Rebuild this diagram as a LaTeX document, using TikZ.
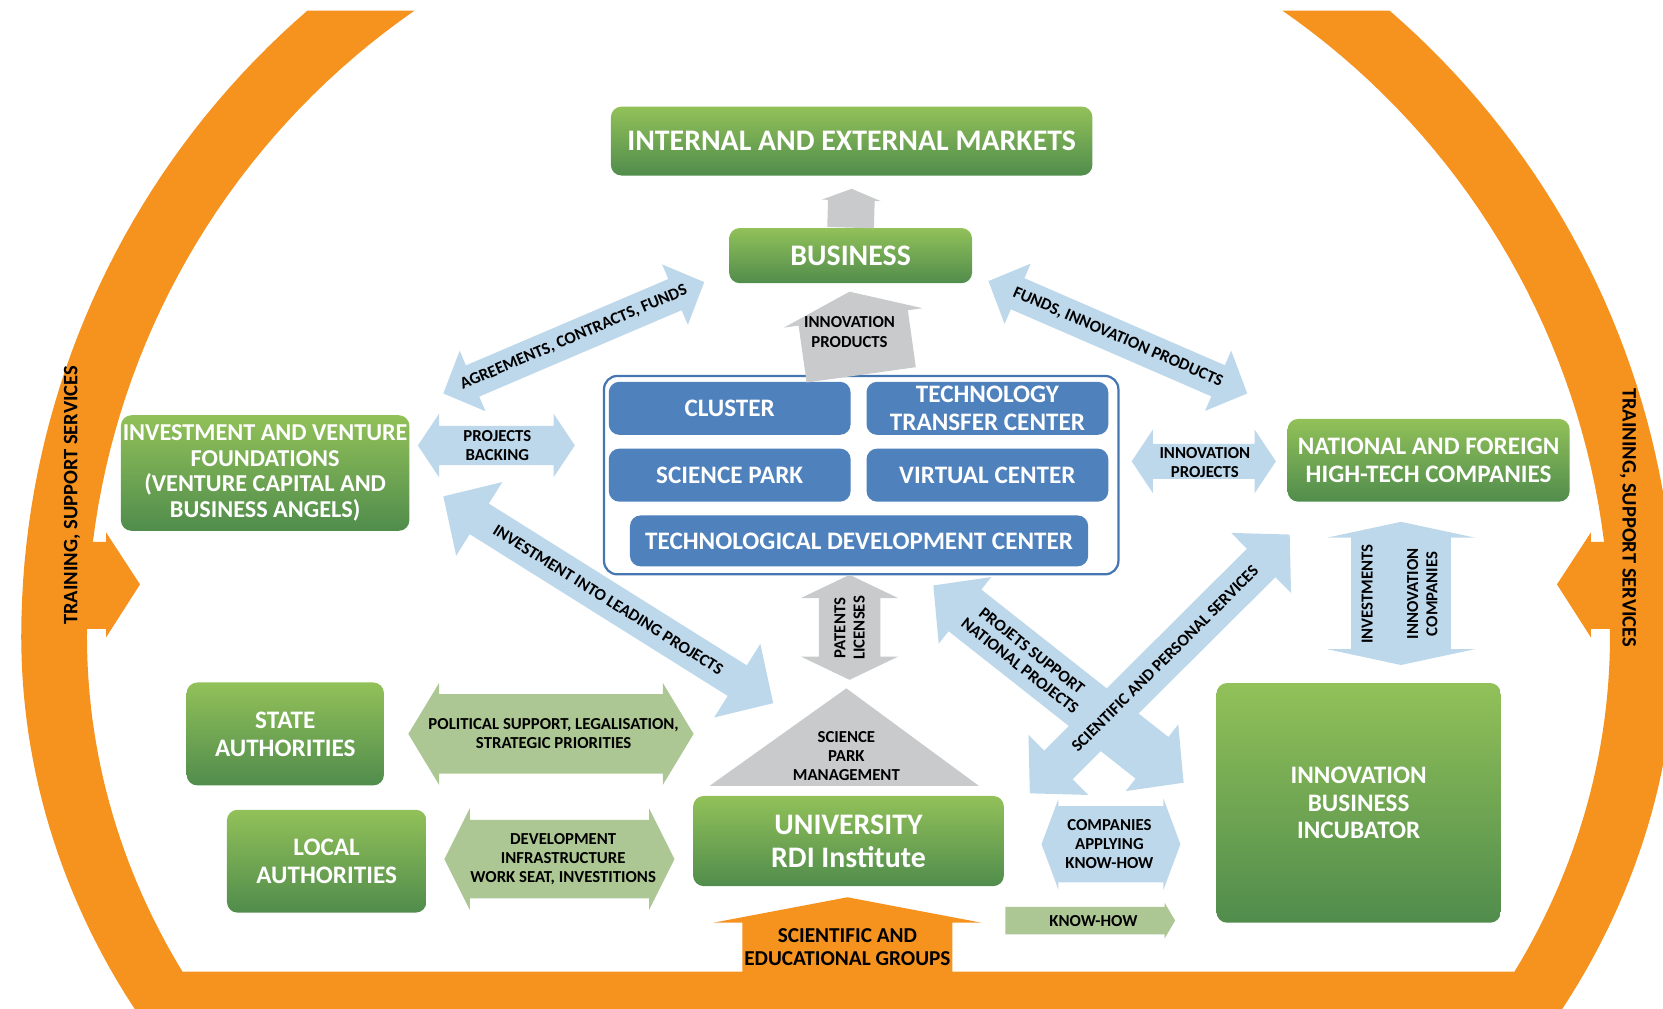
\documentclass[tikz,border=0pt]{standalone}
\usepackage{fontspec}
\setmainfont{Carlito}
\usetikzlibrary{calc}

\definecolor{grntop}{RGB}{146,193,89}
\definecolor{grnbot}{RGB}{80,140,76}
\definecolor{boxblue}{RGB}{79,129,189}
\definecolor{frameblue}{RGB}{70,118,178}
\definecolor{lblue}{RGB}{190,216,235}
\definecolor{lgreen}{RGB}{172,199,147}
\definecolor{lgray}{RGB}{200,202,204}
\definecolor{orng}{RGB}{246,146,30}

% flecha gruesa doble: estilo, desde, hasta, medio cuerpo, media punta, largo punta
\newcommand{\dblarrow}[6][fill=lblue]{%
  \coordinate (da1) at ($(#2)!#6!(#3)$);
  \coordinate (da2) at ($(#3)!#6!(#2)$);
  \fill[#1] (#2) -- ($(da1)!#5!90:(#3)$) -- ($(da1)!#4!90:(#3)$)
    -- ($(da2)!#4!-90:(#2)$) -- ($(da2)!#5!-90:(#2)$) -- (#3)
    -- ($(da2)!#5!90:(#2)$) -- ($(da2)!#4!90:(#2)$)
    -- ($(da1)!#4!-90:(#3)$) -- ($(da1)!#5!-90:(#3)$) -- cycle;
}
% flecha gruesa simple
\newcommand{\onearrow}[6][fill=lgray]{%
  \coordinate (oa1) at ($(#3)!#6!(#2)$);
  \fill[#1] ($(#2)!#4!90:(#3)$) -- ($(oa1)!#4!-90:(#2)$) -- ($(oa1)!#5!-90:(#2)$) -- (#3)
    -- ($(oa1)!#5!90:(#2)$) -- ($(oa1)!#4!90:(#2)$) -- ($(#2)!#4!-90:(#3)$) -- cycle;
}

\begin{document}
\begin{tikzpicture}[x=0.2mm, y=-0.2mm,
    greenbox/.style={rectangle, rounded corners=2mm, top color=grntop, bottom color=grnbot,
      text=white, align=center, inner sep=1pt, font=\bfseries\fontsize{13.5}{15}\selectfont},
    bluebox/.style={rectangle, rounded corners=2mm, fill=boxblue, text=white, align=center,
      inner sep=1pt, minimum width=45.6mm, minimum height=10mm, font=\bfseries\fontsize{13.5}{15}\selectfont},
    bigfont/.style={font=\bfseries\fontsize{16}{18}\selectfont},
    lbl/.style={align=center, inner sep=1pt, font=\bfseries\fontsize{9}{10.3}\selectfont},
    bandtext/.style={font=\bfseries\fontsize{11}{13}\selectfont}]

  \useasboundingbox (0,0) rectangle (1568,951);
  \clip (0,0) rectangle (1568,951);

  % Arco naranja (centro (800,600), arriba circulo, abajo elipse)
  \fill[orng] plot[domain=130.85:180, samples=40, variable=\t] ({800+780*cos(\t)}, {600-780*sin(\t)})
    -- plot[domain=180:211.2, samples=30, variable=\t] ({800+780*cos(\t)}, {600-695*sin(\t)})
    -- plot[domain=-31.2:0, samples=30, variable=\t] ({800+780*cos(\t)}, {600-695*sin(\t)})
    -- plot[domain=0:49.15, samples=40, variable=\t] ({800+780*cos(\t)}, {600-780*sin(\t)})
    -- plot[domain=55.26:0, samples=40, variable=\t] ({800+718*cos(\t)}, {600-718*sin(\t)})
    -- plot[domain=0:-29, samples=30, variable=\t] ({800+718*cos(\t)}, {600-652*sin(\t)})
    -- plot[domain=209:180, samples=30, variable=\t] ({800+718*cos(\t)}, {600-652*sin(\t)})
    -- plot[domain=180:124.74, samples=40, variable=\t] ({800+718*cos(\t)}, {600-718*sin(\t)})
    -- cycle;
  \fill[orng] (80,511) -- (100,511) -- (100,502) -- (132,551) -- (100,601) -- (100,593) -- (80,593) -- cycle;
  \fill[orng] (1520,511) -- (1500,511) -- (1500,502) -- (1468,551) -- (1500,601) -- (1500,593) -- (1520,593) -- cycle;
  \node[bandtext, rotate=90] (trainL) at (68,467) {TRAINING, SUPPORT SERVICES};
  \node[bandtext, rotate=-90] (trainR) at (1535,488) {TRAINING, SUPPORT SERVICES};

  % Cajas
  \node[greenbox, bigfont, minimum width=90.8mm, minimum height=13mm] (mkt) at (803,133) {INTERNAL AND EXTERNAL MARKETS};
  \node[greenbox, bigfont, minimum width=45.8mm, minimum height=10.4mm] (bus) at (802,241) {BUSINESS};
  \node[draw=frameblue, line width=1.2pt, fill=white, rounded corners=2.5mm, minimum width=97mm, minimum height=37.4mm] (cont) at (812,448) {};
  \node[bluebox] (clu) at (688,385) {CLUSTER};
  \node[bluebox] (ttc) at (931,385) {TECHNOLOGY\\TRANSFER CENTER};
  \node[bluebox] (spk) at (688,448) {SCIENCE PARK};
  \node[bluebox] (vir) at (931,448) {VIRTUAL CENTER};
  \node[bluebox, minimum width=86.4mm, minimum height=9.6mm] (tdc) at (810,510) {TECHNOLOGICAL DEVELOPMENT CENTER};
  \node[greenbox, minimum width=53.2mm, minimum height=21.8mm, font=\bfseries\fontsize{13}{13.8}\selectfont] (inv) at (250,446) {INVESTMENT AND VENTURE\\FOUNDATIONS\\(VENTURE CAPITAL AND\\BUSINESS ANGELS)};
  \node[greenbox, minimum width=53.2mm, minimum height=15.6mm] (nat) at (1347,434) {NATIONAL AND FOREIGN\\HIGH-TECH COMPANIES};
  \node[greenbox, minimum width=37.2mm, minimum height=19.4mm] (sta) at (269,692) {STATE\\AUTHORITIES};
  \node[greenbox, minimum width=37.6mm, minimum height=19.4mm] (loc) at (308,812) {LOCAL\\AUTHORITIES};
  \node[greenbox, minimum width=58.6mm, minimum height=17mm, font=\bfseries\fontsize{16}{17.6}\selectfont] (uni) at (800,793) {UNIVERSITY\\RDI Institute};
  \node[greenbox, minimum width=53.6mm, minimum height=45.2mm] (inc) at (1281,757) {INNOVATION\\BUSINESS\\INCUBATOR};

  % Extremos de las flechas
  \coordinate (mkB) at (803,178);
  \coordinate (prB) at (801,275);
  \coordinate (paA) at (801,542);
  \coordinate (paB) at (801,641);
  \coordinate (agA) at (418,371);
  \coordinate (agB) at (664,266);
  \coordinate (fuA) at (932,265);
  \coordinate (fuB) at (1176,371);
  \coordinate (pbA) at (394,420);
  \coordinate (pbB) at (542,420);
  \coordinate (ipA) at (1067,435);
  \coordinate (ipB) at (1203,435);
  \coordinate (ilA) at (418,468);
  \coordinate (ilB) at (729,663);
  \coordinate (psA) at (880,552);
  \coordinate (psB) at (1116,738);
  \coordinate (scA) at (971,748);
  \coordinate (scB) at (1216,504);
  \coordinate (icA) at (1321,492);
  \coordinate (icB) at (1321,627);
  \coordinate (caA) at (982,796);
  \coordinate (caB) at (1113,796);
  \coordinate (khA) at (948,868);
  \coordinate (khB) at (1108,868);
  \coordinate (poA) at (385,692);
  \coordinate (poB) at (654,692);
  \coordinate (deA) at (419,810);
  \coordinate (deB) at (636,810);
  \coordinate (seA) at (799,951);
  \coordinate (seB) at (799,846);

  % Flechas grises
  \onearrow{bus.north}{mkB}{4.4mm}{5.6mm}{2.2mm}
  \onearrow{cont.north}{prB}{10.4mm}{13.2mm}{5mm}
  \node[lbl] (prT) at (801,313) {INNOVATION\\PRODUCTS};
  \dblarrow[fill=lgray]{paA}{paB}{5.8mm}{9.2mm}{4.4mm}
  \node[lbl, rotate=90] (paT) at (801,592) {PATENTS\\LICENSES};
  \fill[lgray] (669,741) -- (798,649) -- (923,741) -- cycle;
  \node[lbl] (spm) at (798,713) {SCIENCE\\PARK\\MANAGEMENT};

  % Flechas azules
  \dblarrow{agA}{agB}{3.2mm}{6.2mm}{6mm}
  \path (agA) -- (agB) node[lbl, midway, sloped] (agT) {AGREEMENTS, CONTRACTS, FUNDS};
  \dblarrow{fuA}{fuB}{3.2mm}{6.2mm}{6mm}
  \path (fuA) -- (fuB) node[lbl, midway, sloped] (fuT) {FUNDS, INNOVATION PRODUCTS};
  \dblarrow{pbA}{pbB}{3.7mm}{6mm}{4mm}
  \node[lbl] (pbT) at (469,420) {PROJECTS\\BACKING};
  \dblarrow{ipA}{ipB}{3.3mm}{6mm}{4mm}
  \node[lbl] (ipT) at (1136,436) {INNOVATION\\PROJECTS};
  \dblarrow{ilA}{ilB}{3.4mm}{8.2mm}{8mm}
  \path (ilA) -- (ilB) node[lbl, midway, sloped] (ilT) {INVESTMENT INTO LEADING PROJECTS};
  \dblarrow{psA}{psB}{5mm}{8mm}{7.6mm}
  \dblarrow{scA}{scB}{3.8mm}{8mm}{7.6mm}
  \path (psA) -- (psB) node[lbl, pos=0.37, sloped] (psT) {PROJETS SUPPORT\\NATIONAL PROJECTS};
  \path (scA) -- (scB) node[lbl, pos=0.52, sloped] (scT) {SCIENTIFIC AND PERSONAL SERVICES};
  \dblarrow{icA}{icB}{9.4mm}{14mm}{3mm}
  \node[lbl, rotate=90] (icT1) at (1289,560) {INVESTMENTS};
  \node[lbl, rotate=90] (icT2) at (1341,560) {INNOVATION\\COMPANIES};
  \dblarrow{caA}{caB}{7.2mm}{8.6mm}{3.2mm}
  \node[lbl] (caT) at (1046,796) {COMPANIES\\APPLYING\\KNOW-HOW};

  % Flechas verdes
  \onearrow[fill=lgreen]{khA}{khB}{2.6mm}{3.4mm}{2mm}
  \node[lbl] (khT) at (1031,868) {KNOW-HOW};
  \dblarrow[fill=lgreen]{poA}{poB}{7.5mm}{9.6mm}{5.8mm}
  \node[lbl] (poT) at (522,692) {POLITICAL SUPPORT, LEGALISATION,\\STRATEGIC PRIORITIES};
  \dblarrow[fill=lgreen]{deA}{deB}{7.4mm}{9.6mm}{4.8mm}
  \node[lbl] (deT) at (531,810) {DEVELOPMENT\\INFRASTRUCTURE\\WORK SEAT, INVESTITIONS};

  % Grupos cientificos
  \onearrow[fill=orng]{seA}{seB}{19.8mm}{25.3mm}{4.8mm}
  \node[lbl, font=\bfseries\fontsize{11.4}{12.5}\selectfont] (seT) at (799,893) {SCIENTIFIC AND\\EDUCATIONAL GROUPS};
\end{tikzpicture}
\end{document}
